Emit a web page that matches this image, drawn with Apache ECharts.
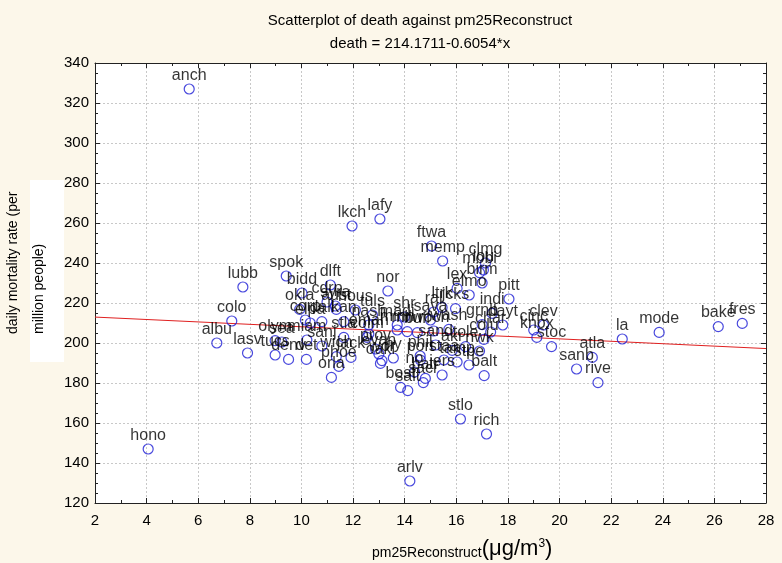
<!DOCTYPE html>
<html>
<head>
<meta charset="utf-8">
<script src="https://cdn.jsdelivr.net/npm/echarts@6/dist/echarts.min.js"></script>
<style>
html,body{margin:0;padding:0;background:#fcf7ea;}
#c{width:782px;height:563px;}
</style>
</head>
<body>
<div id="c"></div>
<script>
const cities = ["anch","hono","arlv","lkch","lafy","ftwa","memp","clmg","lou","mobi","birm","lex","elmo","pitt","spok","lubb","colo","albu","lasv","nor","bidd","dlft","cdrp","okla","syra","hous","tuls","aust","shr","ral","ltrk","jcks","indi","grnb","dayt","char","clev","cinc","knox","stoc","sanb","atla","rive","la","mode","bake","fres","stlo","rich","balt","nwk","tole","sand","akr","stpe","tamp","phil","no","jers","sacr","bost","salt","oakl","prov","ny","phoe","orla","tucs","denv","olym","sea","miam","sanj","stla","det","wich","jack","colm","omah","evan","wor","corp","elpa","dall","kan","nash","madi","minn","milw","buff","roch","wash","sava","colu","port","staa","batr"];
const pm25 = [5.65,4.06,14.2,11.96,13.04,15.04,15.47,17.13,17.05,16.9,17.0,16.03,16.5,18.04,9.41,7.73,7.30,6.72,7.91,13.35,10.02,11.12,10.99,9.93,11.31,12.09,12.75,11.35,13.99,15.12,15.45,15.97,17.39,17.0,17.8,17.33,19.38,19.0,19.12,19.69,20.66,21.27,21.49,22.43,23.86,26.15,27.08,16.16,17.17,17.08,16.9,16.36,15.2,15.84,16.49,16.03,14.6,14.38,15.45,14.72,13.84,14.12,13.06,12.87,13.56,11.45,11.16,8.98,9.5,8.98,9.24,10.21,10.79,11.64,10.19,11.35,11.92,12.54,12.61,13.0,13.12,10.15,10.34,10.79,11.64,12.61,13.71,13.71,14.1,14.49,15.13,15.71,15.0,17.07,14.61,15.52,14.8];
const death = [327,147,131,258.5,262,248.5,241,240,236.5,235.2,230,227.3,224,222,233.5,228,211,200,195,226,225,229,220.5,216.8,218.5,216.5,214,216.8,213,215.5,217.8,217.2,214.8,209.2,209,205.5,209,206.5,202.8,198.2,187,192.8,180.2,202,205.3,208.2,209.8,162,154.5,183.7,196,198.2,199,196.3,189,190.5,193.5,185.5,184,180.2,177.8,176.2,189.8,197,192.5,188.3,182.8,194,191.8,201.2,200.5,201.5,198.5,202.8,191.8,193.2,192.8,202.8,204.5,194.5,191.2,211.5,210,210.7,210.7,209,209,206.5,205.7,205.2,206,206.8,211.5,201.8,191.5,191.5,182.3];
const xTicks = {min: 2, max: 28, step: 2};
const yTicks = {min: 120, max: 340, step: 20};
const fitIntercept = 214.1711;
const fitSlope = -0.6054;
const titleText = "Scatterplot of death against pm25Reconstruct";
const subText = "death = 214.1711-0.6054*x";

const pts = cities.map((n, i) => ({name: n, value: [pm25[i], death[i]]}));
const fitLine = [xTicks.min, xTicks.max].map(x => [x, fitIntercept + fitSlope * x]);

const FONT = "'Liberation Sans', Arial, sans-serif";
const chart = echarts.init(document.getElementById('c'), null, {renderer: 'canvas'});

function axisCommon(show) {
  return {
    axisLine: {show: true, onZero: false, lineStyle: {color: '#222', width: 1}},
    axisTick: {show: true, inside: true, length: 5, lineStyle: {color: '#222'}},
    splitLine: {show: show, lineStyle: {color: '#c8c8c8', type: [2, 2], width: 1}},
  };
}

chart.setOption({
  backgroundColor: '#fcf7ea',
  animation: false,
  textStyle: {fontFamily: FONT},
  title: {
    text: titleText,
    subtext: subText,
    left: 415, top: 8, textAlign: 'center',
    itemGap: 8,
    textStyle: {fontSize: 15, fontWeight: 'normal', color: '#000', fontFamily: FONT},
    subtextStyle: {fontSize: 15, color: '#000', fontFamily: FONT}
  },
  grid: {left: 95, right: 16, top: 63, bottom: 60, show: true, backgroundColor: '#ffffff', borderWidth: 0},
  xAxis: [
    Object.assign({type: 'value', min: xTicks.min, max: xTicks.max, interval: xTicks.step, position: 'bottom',
      axisLabel: {fontSize: 15, color: '#000', margin: 10, fontFamily: FONT}}, axisCommon(true),
      {minorTick: {show: true, splitNumber: 2, length: 3, lineStyle: {color: '#222'}}}),
    Object.assign({type: 'value', min: xTicks.min, max: xTicks.max, interval: xTicks.step, position: 'top',
      axisLabel: {show: false}}, axisCommon(false),
      {minorTick: {show: true, splitNumber: 2, length: 3, lineStyle: {color: '#222'}}})
  ],
  yAxis: [
    Object.assign({type: 'value', min: yTicks.min, max: yTicks.max, interval: yTicks.step, position: 'left',
      axisLabel: {fontSize: 15, color: '#000', margin: 6, fontFamily: FONT}}, axisCommon(true),
      {minorTick: {show: true, splitNumber: 4, length: 3, lineStyle: {color: '#222'}}}),
    Object.assign({type: 'value', min: yTicks.min, max: yTicks.max, interval: yTicks.step, position: 'right',
      axisLabel: {show: false}}, axisCommon(false),
      {minorTick: {show: true, splitNumber: 4, length: 3, lineStyle: {color: '#222'}}})
  ],
  graphic: [
    {type: 'rect', shape: {x: 30, y: 180, width: 34, height: 182}, style: {fill: '#ffffff'}, z: -1},
    {type: 'text', x: 13, y: 334, rotation: Math.PI / 2,
      style: {text: 'daily mortality rate (per', fontSize: 14, fill: '#000', fontFamily: FONT, align: 'left', verticalAlign: 'middle'}},
    {type: 'text', x: 39, y: 334, rotation: Math.PI / 2,
      style: {text: 'million people)', fontSize: 14, fill: '#000', fontFamily: FONT, align: 'left', verticalAlign: 'middle'}},
    {type: 'text', x: 372, y: 549,
      style: {text: '{a|pm25Reconstruct}{b|(μg/m}{c|3}{b|)}', fontFamily: FONT, fill: '#000', verticalAlign: 'middle',
        rich: {a: {fontSize: 14, fontFamily: FONT, fill: '#000', verticalAlign: 'bottom'},
               b: {fontSize: 22, fontFamily: FONT, fill: '#000', verticalAlign: 'bottom'},
               c: {fontSize: 12, fontFamily: FONT, fill: '#000', verticalAlign: 'top', padding: [0, 0, 10, 0]}}}}
  ],
  series: [
    {type: 'line', data: fitLine, xAxisIndex: 0, yAxisIndex: 0, symbol: 'none', silent: true,
      lineStyle: {color: '#e02020', width: 1}, z: 1},
    {type: 'scatter', data: pts, xAxisIndex: 0, yAxisIndex: 0, symbol: 'circle', symbolSize: 10,
      itemStyle: {color: 'rgba(0,0,0,0)', borderColor: '#1c1cd4', borderWidth: 1.2},
      label: {show: true, position: 'top', distance: 0, formatter: p => p.name, fontSize: 16, color: '#000', fontFamily: FONT},
      labelLayout: {hideOverlap: false},
      z: 3}
  ]
});
</script>
</body>
</html>
